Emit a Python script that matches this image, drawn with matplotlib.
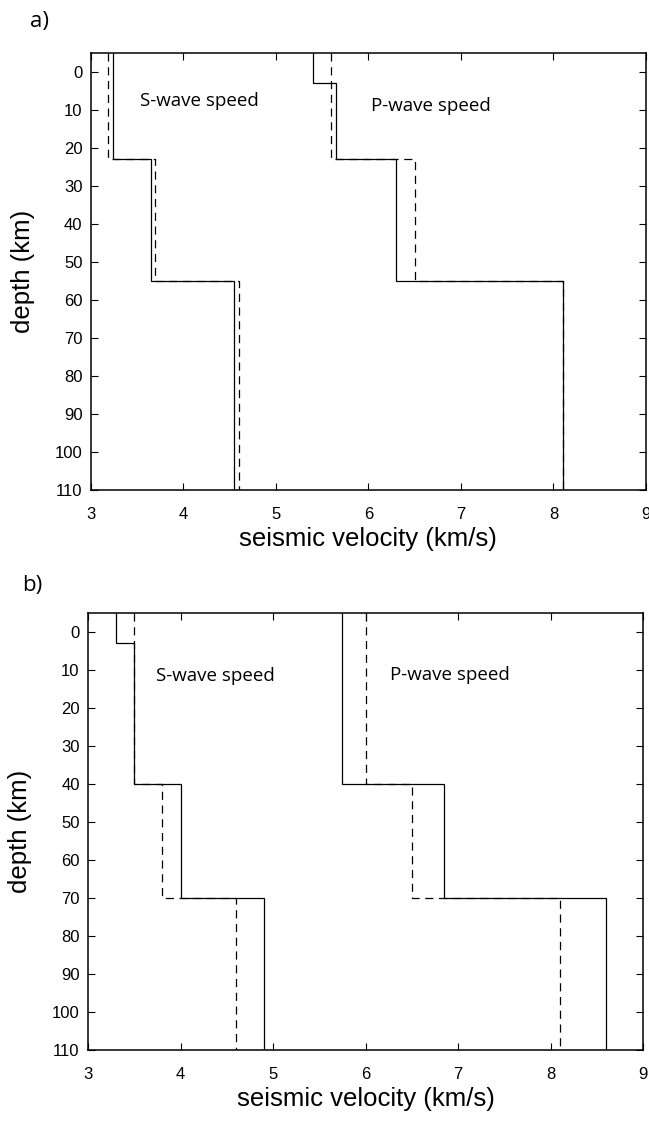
import matplotlib
matplotlib.use("Agg")
import matplotlib.pyplot as plt
import numpy as np

# ---- data ----
# panel a
a_s_solid_depth = [-5, 23, 55, 110]
a_s_solid_vel = [3.24, 3.65, 4.55]
a_s_dash_depth = [-5, 23, 55, 110]
a_s_dash_vel = [3.19, 3.69, 4.60]
a_p_solid_depth = [-5, 3, 23, 55, 110]
a_p_solid_vel = [5.40, 5.65, 6.30, 8.10]
a_p_dash_depth = [-5, 23, 55, 110]
a_p_dash_vel = [5.60, 6.50, 8.10]
# panel b
b_s_solid_depth = [-5, 3, 40, 70, 110]
b_s_solid_vel = [3.30, 3.50, 4.00, 4.90]
b_s_dash_depth = [-5, 40, 70, 110]
b_s_dash_vel = [3.50, 3.80, 4.60]
b_p_solid_depth = [-5, 40, 70, 110]
b_p_solid_vel = [5.75, 6.85, 8.60]
b_p_dash_depth = [-5, 40, 70, 110]
b_p_dash_vel = [6.00, 6.50, 8.10]

xticks = [3, 4, 5, 6, 7, 8, 9]
yticks = [0, 10, 20, 30, 40, 50, 60, 70, 80, 90, 100, 110]


def profile(depths, vels):
    xs, ys = [], []
    for i, v in enumerate(vels):
        xs += [v, v]
        ys += [depths[i], depths[i + 1]]
    return xs, ys


fig = plt.figure(figsize=(6.49, 11.23), dpi=100)
axA = fig.add_axes([0.1398, 0.5637, 0.8556, 0.3894])
axB = fig.add_axes([0.1356, 0.0650, 0.8552, 0.3894])

lw = 0.9
dash = (0, (6.5, 4.5))
tickfont = dict(family="Liberation Sans", size=12)
labfont = dict(family="Liberation Sans", size=18.5)
annfont = dict(family="Open Sans", size=13.5)

panels = [
    (axA, [(a_s_solid_depth, a_s_solid_vel, "-"), (a_s_dash_depth, a_s_dash_vel, "--"),
           (a_p_solid_depth, a_p_solid_vel, "-"), (a_p_dash_depth, a_p_dash_vel, "--")],
     (3.53, 7.8), (6.03, 9.0)),
    (axB, [(b_s_solid_depth, b_s_solid_vel, "-"), (b_s_dash_depth, b_s_dash_vel, "--"),
           (b_p_solid_depth, b_p_solid_vel, "-"), (b_p_dash_depth, b_p_dash_vel, "--")],
     (3.73, 11.6), (6.27, 11.3)),
]

for ax, lines, spos, ppos in panels:
    for d, v, st in lines:
        xs, ys = profile(d, v)
        if st == "-":
            ax.plot(xs, ys, color="black", lw=lw, solid_joinstyle="miter")
        else:
            ax.plot(xs, ys, color="black", lw=lw, linestyle=dash)
    ax.set_xlim(3, 9)
    ax.set_ylim(110, -5)
    ax.set_xticks(xticks)
    ax.set_yticks(yticks)
    ax.set_xticklabels([str(t) for t in xticks], fontdict=tickfont)
    ax.set_yticklabels([str(t) for t in yticks], fontdict=tickfont)
    ax.tick_params(direction="in", top=True, right=True, length=5, width=0.8)
    ax.tick_params(axis="x", pad=12)
    ax.tick_params(axis="y", pad=6)
    for s in ax.spines.values():
        s.set_linewidth(1.1)
    ax.set_xlabel("seismic velocity (km/s)", fontdict=labfont, labelpad=4)
    ax.set_ylabel("depth (km)", fontdict=labfont, labelpad=14)
    ax.text(spos[0], spos[1], "S-wave speed", fontdict=annfont, va="center", ha="left")
    ax.text(ppos[0], ppos[1], "P-wave speed", fontdict=annfont, va="center", ha="left")

fig.text(30 / 649, 1 - 21 / 1123, "a)", family="Open Sans", size=16, va="center", ha="left")
fig.text(22 / 649, 1 - 586 / 1123, "b)", family="Open Sans", size=16, va="center", ha="left")

fig.savefig("out.png", dpi=100)
